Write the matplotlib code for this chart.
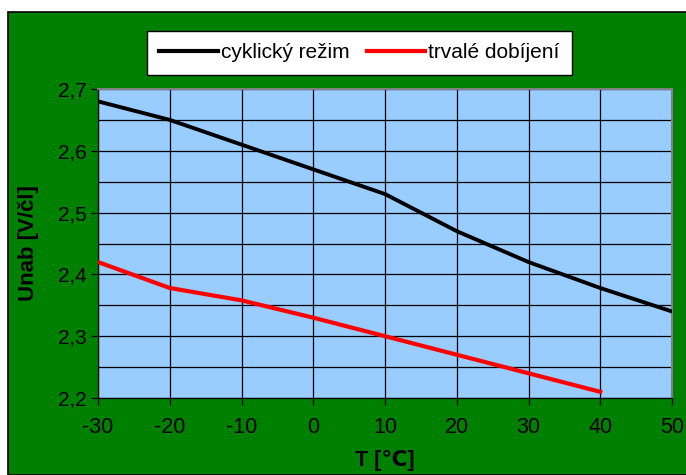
import matplotlib.pyplot as plt
from matplotlib.patches import Rectangle
from matplotlib.ticker import MultipleLocator, FuncFormatter

plt.rcParams['font.family'] = ['Liberation Sans', 'DejaVu Sans']
plt.rcParams['axes.unicode_minus'] = False

# teplota a nabíjecí napětí na článek
teplota = [-30, -20, -10, 0, 10, 20, 30, 40, 50]
cyklicky = [2.68, 2.65, 2.61, 2.57, 2.53, 2.47, 2.42, 2.378, 2.34]
teplota_trvale = [-30, -20, -10, 0, 10, 20, 30, 40]
trvale = [2.42, 2.378, 2.358, 2.33, 2.30, 2.27, 2.24, 2.21]

fig = plt.figure(figsize=(6.86, 4.75), dpi=100)
fig.patch.set_facecolor('white')
# zelené pozadí grafu s černým okrajem
fig.patches.append(Rectangle((8 / 686, 0), 1, 1 - 12 / 475, transform=fig.transFigure,
                             facecolor='#008000', edgecolor='black', linewidth=1.2, zorder=-5))

ax = fig.add_axes([98 / 686, 77 / 475, 574 / 686, 309 / 475])
ax.set_facecolor('#99CCFF')

ax.plot(teplota, cyklicky, color='black', lw=2.8, label='cyklický režim', zorder=3)
ax.plot(teplota_trvale, trvale, color='#FF0000', lw=3.0, label='trvalé dobíjení', zorder=3)

ax.set_xlim(-30, 50)
ax.set_ylim(2.2, 2.7)
ax.xaxis.set_major_locator(MultipleLocator(10))
ax.yaxis.set_major_locator(MultipleLocator(0.1))
ax.yaxis.set_minor_locator(MultipleLocator(0.05))
ax.yaxis.set_major_formatter(FuncFormatter(lambda v, p: f'{v:.1f}'.replace('.', ',')))
ax.grid(True, which='major', color='black', lw=0.9)
ax.grid(True, which='minor', axis='y', color='black', lw=0.9)
ax.tick_params(which='minor', length=0)
ax.tick_params(which='major', direction='out', length=5, width=0.9, colors='black')
ax.tick_params(axis='x', pad=9, labelsize=15.5)
ax.tick_params(axis='y', pad=3, labelsize=15)

for side in ['top', 'right']:
    ax.spines[side].set_color('#808080')
    ax.spines[side].set_linewidth(1.5)
for side in ['left', 'bottom']:
    ax.spines[side].set_color('black')
    ax.spines[side].set_linewidth(0.9)

ax.set_xlabel('T [℃]', fontsize=15.5, fontweight='bold', labelpad=8)
ax.set_ylabel('Unab [V/čl]', fontsize=16, fontweight='bold', labelpad=14)

leg = fig.legend(loc='center', bbox_to_anchor=(359.5 / 686, 1 - 53 / 475), ncol=2,
                 fontsize=15, frameon=True, fancybox=False, framealpha=1,
                 handlelength=2.8, handletextpad=0.15, columnspacing=0.85,
                 borderpad=0.6, borderaxespad=0)
leg.get_frame().set_edgecolor('black')
leg.get_frame().set_linewidth(1.0)
for line in leg.get_lines():
    line.set_linewidth(3.0)

fig.savefig('out.png', dpi=100, facecolor=fig.get_facecolor())
